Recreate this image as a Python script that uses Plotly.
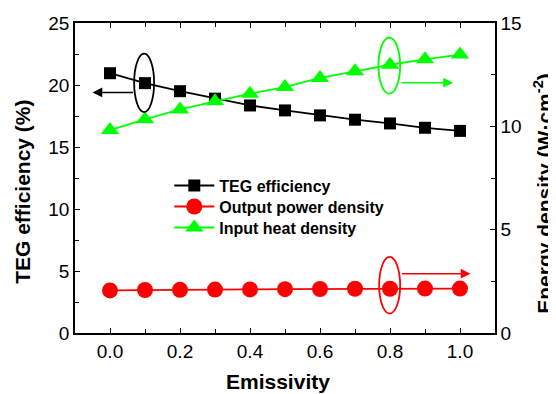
import plotly.graph_objects as go

emissivity = [0.0, 0.1, 0.2, 0.3, 0.4, 0.5, 0.6, 0.7, 0.8, 0.9, 1.0]
teg_efficiency = [20.95, 20.15, 19.5, 18.9, 18.35, 17.95, 17.55, 17.2, 16.9, 16.55, 16.3]
output_power_density = [2.06, 2.08, 2.09, 2.10, 2.11, 2.12, 2.13, 2.14, 2.14, 2.15, 2.15]
input_heat_density = [9.82, 10.34, 10.82, 11.21, 11.58, 11.9, 12.34, 12.66, 12.98, 13.24, 13.47]

x_ticks = [0.0, 0.2, 0.4, 0.6, 0.8, 1.0]
x_tick_labels = ["0.0", "0.2", "0.4", "0.6", "0.8", "1.0"]
left_ticks = [0, 5, 10, 15, 20, 25]
right_ticks = [0, 5, 10, 15]

x_title = "<b>Emissivity</b>"
left_title = "<b>TEG efficiency (%)</b>"
right_title = "<b>Energy density (W·cm<sup>-2</sup>)</b>"

# guide ellipses: (x0, x1, y0, y1, axis, colour)
ellipses = [
    (0.069, 0.126, 17.82, 22.53, "y", "#000000"),
    (0.767, 0.829, 11.58, 14.29, "y2", "#00ff00"),
    (0.769, 0.829, 0.94, 3.68, "y2", "#ff0000"),
]
# guide arrows: (tail_x, head_x, y, axis, colour)
arrows = [
    (0.07, -0.05, 19.4, "y", "#000000"),
    (0.83, 0.98, 12.11, "y2", "#00ff00"),
    (0.83, 1.03, 2.87, "y2", "#ff0000"),
]

FONT = "Arial, Liberation Sans, sans-serif"

fig = go.Figure()
fig.add_trace(go.Scatter(
    x=emissivity, y=teg_efficiency, name="TEG efficiency", mode="lines+markers",
    line=dict(color="#000000", width=1.8),
    marker=dict(symbol="square", size=12, color="#000000"),
    yaxis="y", legend="legend"))
fig.add_trace(go.Scatter(
    x=emissivity, y=output_power_density, name="Output power density", mode="lines+markers",
    line=dict(color="#ff0000", width=1.8),
    marker=dict(symbol="circle", size=16, color="#ff0000"),
    yaxis="y2", legend="legend2"))
fig.add_trace(go.Scatter(
    x=emissivity, y=input_heat_density, name="Input heat density", mode="lines+markers",
    line=dict(color="#00ff00", width=1.8),
    marker=dict(symbol="triangle-up", size=16, color="#00ff00"),
    yaxis="y2", legend="legend3"))

shapes = []
for x0, x1, y0, y1, ax, col in ellipses:
    shapes.append(dict(type="circle", xref="x", yref=ax, x0=x0, x1=x1, y0=y0, y1=y1,
                       line=dict(color=col, width=1.8)))
annotations = []
for tx, hx, yy, ax, col in arrows:
    annotations.append(dict(x=hx, y=yy, xref="x", yref=ax, ax=tx, ay=yy, axref="x", ayref=ax,
                            text="", showarrow=True, arrowhead=2, arrowsize=1.3,
                            arrowwidth=1.5, arrowcolor=col))

title_font = dict(family=FONT, size=21, color="#000000")
annotations.append(dict(text=x_title, xref="paper", yref="paper", x=0.4845, y=-0.158,
                        xanchor="center", yanchor="middle", showarrow=False, font=title_font))
annotations.append(dict(text=left_title, xref="paper", yref="paper", x=-0.124, y=0.455,
                        xanchor="center", yanchor="middle", showarrow=False, textangle=-90,
                        font=title_font))
annotations.append(dict(text=right_title, xref="paper", yref="paper", x=1.114, y=0.452,
                        xanchor="center", yanchor="middle", showarrow=False, textangle=-90,
                        font=title_font))

axis_common = dict(showline=True, linecolor="#000000", linewidth=1.5, ticks="inside",
                   ticklen=5, tickwidth=1.3, tickcolor="#000000", showgrid=False, zeroline=False,
                   automargin=False,
                   tickfont=dict(family=FONT, size=19, color="#000000"))

legend_common = dict(xanchor="left", yanchor="top", bgcolor="rgba(0,0,0,0)",
                     font=dict(family=FONT, size=16, color="#000000", weight="bold"),
                     itemwidth=40)

# the page body has an 8 px margin, so the figure is 8 px smaller and shifted margins
fig.update_layout(
    width=548, height=386,
    margin=dict(l=67, r=61, t=15, b=61, autoexpand=False),
    paper_bgcolor="white", plot_bgcolor="white",
    font=dict(family=FONT, color="#000000"),
    showlegend=True,
    legend=dict(x=0.2245, y=0.5303, **legend_common),
    legend2=dict(x=0.2245, y=0.4626, **legend_common),
    legend3=dict(x=0.2245, y=0.3948, **legend_common),
    xaxis=dict(range=[-0.1, 1.1], tickvals=x_ticks, ticktext=x_tick_labels, mirror="ticks",
               minor=dict(dtick=0.1, tick0=0, ticks="inside", ticklen=4, tickcolor="#000000"),
               **axis_common),
    yaxis=dict(range=[0, 25], tickvals=left_ticks,
               minor=dict(dtick=2.5, tick0=0, ticks="inside", ticklen=4, tickcolor="#000000"),
               **axis_common),
    yaxis2=dict(range=[0, 15], tickvals=right_ticks, overlaying="y", side="right",
                minor=dict(dtick=2.5, tick0=0, ticks="inside", ticklen=4, tickcolor="#000000"),
                **axis_common),
    shapes=shapes,
    annotations=annotations,
)

fig.write_html("out.html")
